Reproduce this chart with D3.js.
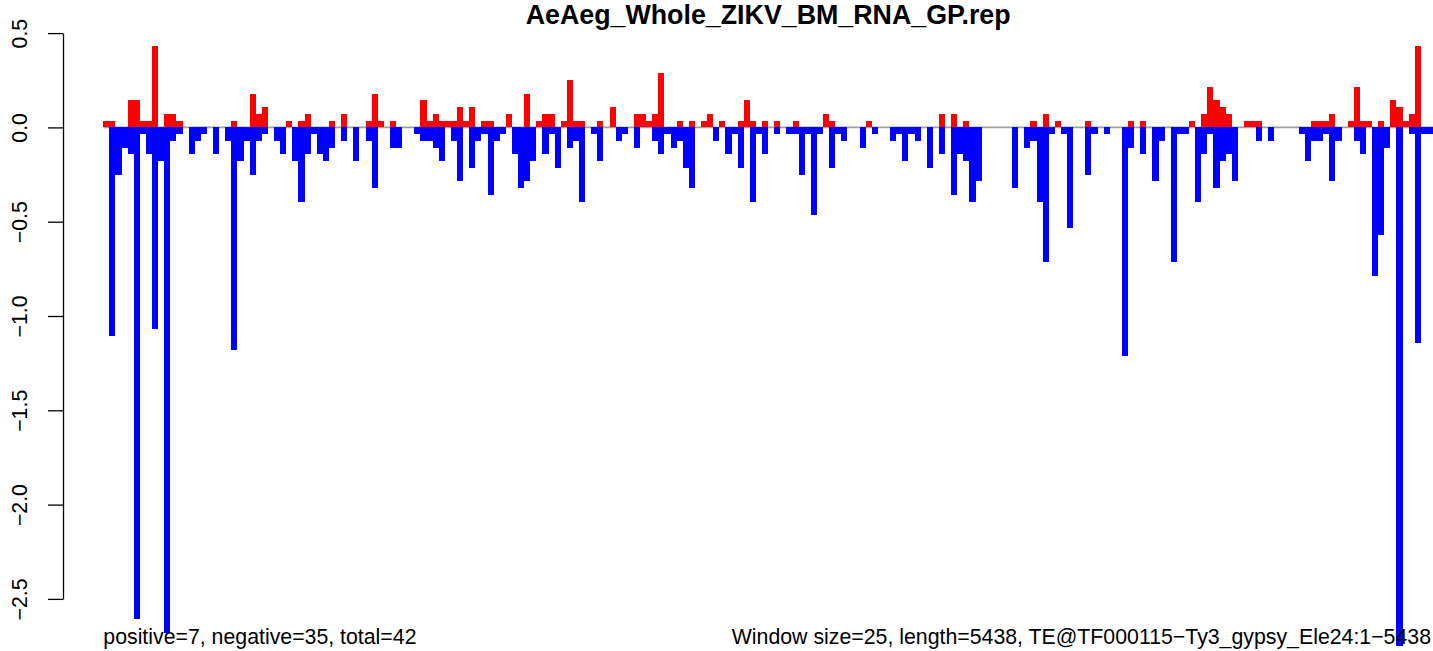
<!DOCTYPE html>
<html>
<head>
<meta charset="utf-8">
<script src="https://cdn.jsdelivr.net/npm/d3@7"></script>
<style>
  html, body { margin: 0; padding: 0; background: #fff; }
  svg { display: block; font-family: "Liberation Sans", Arial, Helvetica, sans-serif; }
</style>
</head>
<body>
<svg id="chart" width="1433" height="651"></svg>
<script>
// ---- data (values per 25-nt window) ----
const title = "AeAeg_Whole_ZIKV_BM_RNA_GP.rep";
const leftNote = "positive=7, negative=35, total=42";
const rightNote = "Window size=25, length=5438, TE@TF000115\u2212Ty3_gypsy_Ele24:1\u22125438";
const yTicks = [-2.5, -2.0, -1.5, -1.0, -0.5, 0.0, 0.5];

const positive = [
  0.036,0.036,0,0,0.143,0.143,0.036,0.036,0.429,0,
  0.071,0.071,0.036,0,0,0,0,0,0,0,
  0,0.036,0,0,0.179,0.071,0.107,0,0,0,
  0.036,0,0.036,0.071,0,0,0,0.036,0,0.071,
  0,0,0,0.036,0.179,0.036,0,0.036,0,0,
  0,0,0.143,0.036,0.071,0.036,0.036,0.036,0.107,0.036,
  0.107,0,0.036,0.036,0,0,0.071,0,0,0.179,
  0,0.036,0.071,0.071,0,0.036,0.25,0.036,0.036,0,
  0,0.036,0,0.107,0,0,0,0.071,0.071,0.036,
  0.071,0.286,0,0,0.036,0,0.036,0,0.036,0.071,
  0,0.036,0,0,0.036,0.143,0.036,0,0.036,0,
  0.036,0,0,0.036,0,0,0,0,0.071,0.036,
  0,0,0,0,0,0.036,0,0,0,0,
  0,0,0,0,0,0,0,0.071,0,0.071,
  0,0.036,0,0,0,0,0,0,0,0,
  0,0,0.036,0,0.071,0,0.036,0,0,0,
  0,0.036,0,0,0,0,0,0,0.036,0,
  0.036,0,0,0,0,0,0,0,0.036,0,
  0.071,0.214,0.143,0.107,0.071,0,0,0.036,0.036,0.036,
  0,0,0,0,0,0,0,0,0.036,0.036,
  0.036,0.071,0,0,0.036,0.214,0.036,0.036,0,0.036,
  0,0.143,0.107,0.036,0.071,0.429,0,0
];

const negative = [
  0,-1.107,-0.25,-0.107,-0.143,-2.607,-0.036,-0.143,-1.071,-0.179,
  -2.679,-0.071,-0.036,0,-0.143,-0.071,-0.036,0,-0.143,0,
  -0.071,-1.179,-0.179,-0.071,-0.25,-0.071,-0.036,0,-0.071,-0.143,
  0,-0.179,-0.393,-0.143,-0.036,-0.143,-0.179,-0.107,0,-0.071,
  0,-0.179,0,-0.071,-0.321,0,0,-0.107,-0.107,0,
  0,-0.036,-0.071,-0.071,-0.107,-0.179,0,-0.071,-0.286,0,
  -0.214,-0.071,-0.036,-0.357,-0.071,-0.036,0,-0.143,-0.321,-0.286,
  -0.179,0,-0.143,-0.036,-0.214,0,-0.107,-0.071,-0.393,0,
  -0.036,-0.179,0,0,-0.071,-0.036,0,-0.107,0,0,
  -0.071,-0.143,-0.036,-0.107,-0.071,-0.214,-0.321,0,0,0,
  -0.071,0,-0.143,-0.036,-0.214,0,-0.393,-0.036,-0.143,0,
  -0.036,0,-0.036,-0.036,-0.25,-0.036,-0.464,-0.036,0,-0.214,
  -0.036,-0.071,0,0,-0.107,0,-0.036,0,0,-0.071,
  -0.036,-0.179,-0.036,-0.071,0,-0.214,0,-0.143,0,-0.357,
  -0.143,-0.179,-0.393,-0.286,0,0,0,0,0,-0.321,
  0,-0.107,-0.071,-0.393,-0.714,-0.036,0,-0.036,-0.536,0,
  0,-0.25,-0.036,0,-0.036,0,0,-1.214,-0.107,0,
  -0.143,0,-0.286,-0.071,0,-0.714,-0.036,-0.036,0,-0.393,
  -0.143,-0.036,-0.321,-0.179,-0.143,-0.286,0,0,0,-0.071,
  0,-0.071,0,0,0,0,-0.036,-0.179,-0.071,-0.071,
  -0.036,-0.286,-0.071,0,0,-0.071,-0.143,0,-0.786,-0.571,
  -0.107,0,-2.75,0,-0.036,-1.143,-0.036,-0.036
];

const windows = d3.range(positive.length);

// ---- layout ----
const plotLeft = 103.3, plotRight = 1433;
const svg = d3.select("#chart");

const x = d3.scaleBand().domain(windows).range([plotLeft, plotRight]).padding(0);
const y = d3.scaleLinear().domain([-2.5, 0.5]).range([598.9, 33.1]);

// zero line
svg.append("line")
  .attr("x1", plotLeft).attr("x2", plotRight)
  .attr("y1", y(0)).attr("y2", y(0))
  .attr("stroke", "#a0a0a0").attr("stroke-width", 1.6);

// positive bars
svg.append("g").selectAll("rect")
  .data(windows.filter(i => positive[i] > 0))
  .join("rect")
  .attr("x", i => x(i))
  .attr("width", x.bandwidth())
  .attr("y", i => y(positive[i]))
  .attr("height", i => y(0) - y(positive[i]))
  .attr("fill", "#ff0000")
  .attr("shape-rendering", "crispEdges");

// negative bars
svg.append("g").selectAll("rect")
  .data(windows.filter(i => negative[i] < 0))
  .join("rect")
  .attr("x", i => x(i))
  .attr("width", x.bandwidth())
  .attr("y", y(0))
  .attr("height", i => y(negative[i]) - y(0))
  .attr("fill", "#0000ff")
  .attr("shape-rendering", "crispEdges");

// y axis
const axisX = 63;
const yAxis = d3.axisLeft(y).tickValues(yTicks).tickFormat(d3.format(".1f"))
  .tickSize(15).tickSizeOuter(0).tickPadding(0);
const ag = svg.append("g").attr("transform", `translate(${axisX},0)`).call(yAxis);
ag.select(".domain").attr("stroke", "#000").attr("stroke-width", 1.3);
ag.selectAll(".tick line").attr("stroke", "#000").attr("stroke-width", 1.3);
ag.selectAll(".tick text")
  .attr("font-size", 21.3)
  .attr("font-family", "Liberation Sans, Arial, sans-serif")
  .attr("fill", "#000")
  .attr("x", 0).attr("dy", 0)
  .attr("text-anchor", "middle")
  .attr("transform", "translate(-36,0) rotate(-90)");

// title
svg.append("text")
  .attr("x", (plotLeft + plotRight) / 2).attr("y", 24)
  .attr("text-anchor", "middle")
  .attr("font-size", 26.8).attr("font-weight", "bold")
  .text(title);

// bottom notes
svg.append("text")
  .attr("x", plotLeft).attr("y", 644)
  .attr("font-size", 21.3)
  .text(leftNote);
svg.append("text")
  .attr("x", 1431).attr("y", 644)
  .attr("text-anchor", "end")
  .attr("font-size", 21.3)
  .text(rightNote);
</script>
</body>
</html>
